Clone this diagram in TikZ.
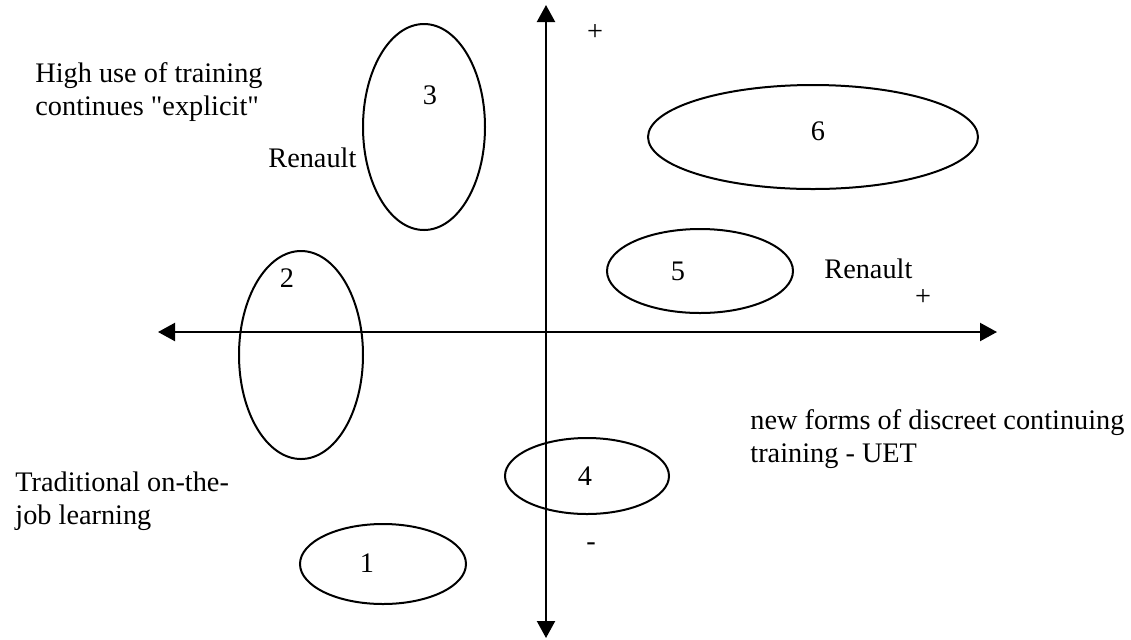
\documentclass[tikz,border=0pt]{standalone}
\usepackage{fontspec}
\setmainfont{Liberation Serif}
\usetikzlibrary{shapes.geometric,arrows.meta,positioning}

\begin{document}
\begin{tikzpicture}[
    x=0.5pt,y=-0.5pt,
    zone/.style={draw,ellipse,line width=1pt,inner sep=0pt},
    axis/.style={{Triangle[length=8.5pt,width=9pt]}-{Triangle[length=8.5pt,width=9pt]},
                 line width=1.1pt},
    num/.style={font=\fontsize{14.15}{16.5}\selectfont,inner sep=0pt},
    lbl/.style={font=\fontsize{14.15}{16.5}\selectfont,align=left,
                inner sep=0pt,anchor=base west}
  ]
    \useasboundingbox (0,0) rectangle (1131,639);

    % axes
    \coordinate (ytop) at (546,5);
    \coordinate (ybot) at (546,638);
    \coordinate (xleft) at (158,332);
    \coordinate (xright) at (997,332);
    \draw[axis] (xleft) -- (xright);
    \draw[axis] (ybot) -- (ytop);

    % zones
    \node[zone,minimum width=83pt,minimum height=40pt] (e1) at (383,564) {};
    \node[zone,minimum width=62pt,minimum height=104pt] (e2) at (301,355) {};
    \node[zone,minimum width=61pt,minimum height=103pt] (e3) at (424,127) {};
    \node[zone,minimum width=82pt,minimum height=38pt] (e4) at (587,476) {};
    \node[zone,minimum width=93pt,minimum height=42pt] (e5) at (700,271) {};
    \node[zone,minimum width=165pt,minimum height=52pt] (e6) at (813,137) {};

    \node[num] (n1) at (367,563) {1};
    \node[num] (n2) at (287,278) {2};
    \node[num] (n3) at (430,95) {3};
    \node[num] (n4) at (585,476) {4};
    \node[num] (n5) at (678,271) {5};
    \node[num] (n6) at (818,131) {6};

    % signs
    \node[num] (plustop) at (595,32) {+};
    \node[num] (plusright) at (923,297) {+};
    \node[num] (minusbot) at (591,547) {-};

    % labels
    \node[lbl] (renleft) at (268,167) {Renault};
    \node[lbl] (renright) at (824,278) {Renault};
    \node[lbl] (highuse) at (35,115)
      {High use of training\\continues \textquotedbl explicit\textquotedbl};
    \node[lbl] (tradjob) at (15,524) {Traditional on-the-\\job learning};
    \node[lbl] (newforms) at (750,462) {new forms of discreet continuing\\training - UET};
\end{tikzpicture}
\end{document}
